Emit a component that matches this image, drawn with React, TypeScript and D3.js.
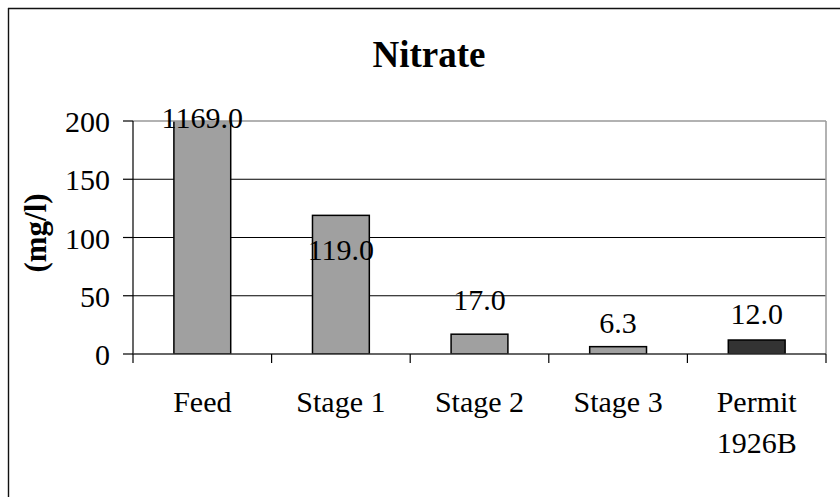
import React from "react";
import * as d3 from "d3";

const categories = ["Feed", "Stage 1", "Stage 2", "Stage 3", "Permit\n1926B"];
const values = [1169.0, 119.0, 17.0, 6.3, 12.0];
const valueLabels = ["1169.0", "119.0", "17.0", "6.3", "12.0"];
const yTicks = [0, 50, 100, 150, 200];
const title = "Nitrate";
const yTitle = "(mg/l)";

// rendering constants (label placement relative to bar top, as in the reference)
const labelOffsets = [7, 45, -24, -14, -16];
const barColors = ["#a0a0a0", "#a0a0a0", "#a0a0a0", "#a0a0a0", "#333333"];

const W = 840;
const H = 497;
const left = 133;
const right = 826;
const top = 121;
const bottom = 354;
const FONT = "'Liberation Serif', 'Times New Roman', serif";

export default function App() {
  const x = d3
    .scaleBand<number>()
    .domain(d3.range(categories.length))
    .range([left, right])
    .paddingInner(0.59)
    .paddingOuter(0.295);
  const step = (right - left) / categories.length;
  const y = d3.scaleLinear().domain([0, 200]).range([bottom, top]);
  const ymax = 200;

  return (
    <svg
      width={W}
      height={H}
      style={{ position: "absolute", left: 0, top: 0, background: "#fff", overflow: "hidden" }}
      fontFamily={FONT}
    >
      <defs>
        <clipPath id="plotclip">
          <rect x={left} y={top} width={right - left} height={bottom - top} />
        </clipPath>
      </defs>
      <rect x={0} y={0} width={W} height={H} fill="#fff" />
      {/* outer chart border (only top and left visible in the frame) */}
      <line x1={8} x2={W} y1={8.5} y2={8.5} stroke="#111" strokeWidth={1.6} />
      <line x1={8.5} x2={8.5} y1={8} y2={H} stroke="#111" strokeWidth={1.4} />

      <text x={429} y={67} textAnchor="middle" fontWeight="bold" fontSize={37} fill="#000">
        {title}
      </text>

      {/* gridlines */}
      {yTicks
        .filter((t) => t > 0 && t < ymax)
        .map((t) => (
          <line key={t} x1={left} x2={right} y1={y(t)} y2={y(t)} stroke="#000" strokeWidth={1} />
        ))}
      {/* plot area border top/right */}
      <line x1={right} x2={right} y1={top} y2={bottom} stroke="#999" strokeWidth={1.5} />

      {/* bars */}
      <g clipPath="url(#plotclip)">
        {values.map((v, i) => {
          const yv = y(Math.min(v, ymax + 5));
          return (
            <rect
              key={i}
              x={x(i)!}
              y={yv}
              width={x.bandwidth()}
              height={bottom - yv}
              fill={barColors[i]}
              stroke="#000"
              strokeWidth={1.5}
            />
          );
        })}
      </g>
      <line x1={left} x2={right} y1={top} y2={top} stroke="#999" strokeWidth={1.5} />

      {/* y axis */}
      <line x1={left} x2={left} y1={top} y2={bottom} stroke="#000" strokeWidth={1.2} />
      {yTicks.map((t) => (
        <g key={t}>
          <line x1={left - 10} x2={left} y1={y(t)} y2={y(t)} stroke="#000" strokeWidth={1.2} />
          <text x={110} y={y(t) + 11} textAnchor="end" fontSize={30} fill="#000">
            {t}
          </text>
        </g>
      ))}

      {/* x axis */}
      <line x1={left} x2={right} y1={bottom} y2={bottom} stroke="#333" strokeWidth={1.5} />
      {d3.range(categories.length + 1).map((i) => (
        <line
          key={i}
          x1={left + i * step}
          x2={left + i * step}
          y1={bottom}
          y2={bottom + 9}
          stroke="#000"
          strokeWidth={1.2}
        />
      ))}
      {categories.map((c, i) => (
        <text key={c} x={x(i)! + x.bandwidth() / 2} y={412} textAnchor="middle" fontSize={30} fill="#000">
          {c.split("\n").map((line, j) => (
            <tspan key={j} x={x(i)! + x.bandwidth() / 2} dy={j === 0 ? 0 : 41}>
              {line}
            </tspan>
          ))}
        </text>
      ))}

      {/* value labels */}
      {values.map((v, i) => (
        <text
          key={i}
          x={x(i)! + x.bandwidth() / 2}
          y={y(Math.min(v, ymax)) + labelOffsets[i]}
          textAnchor="middle"
          fontSize={30}
          fill="#000"
        >
          {valueLabels[i]}
        </text>
      ))}

      {/* y title */}
      <text
        transform={`translate(46,233) rotate(-90)`}
        textAnchor="middle"
        fontWeight="bold"
        fontSize={31}
        fill="#000"
      >
        {yTitle}
      </text>
    </svg>
  );
}
